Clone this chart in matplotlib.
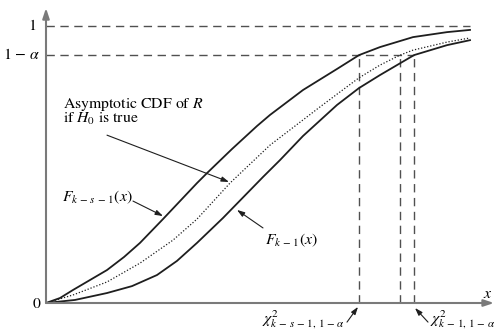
import matplotlib
matplotlib.use("Agg")
import matplotlib.pyplot as plt

plt.rcParams['font.family'] = ['STIXGeneral', 'DejaVu Serif']
plt.rcParams['mathtext.fontset'] = 'stix'

# ---- data (x in chart units, y = CDF value) ----
alpha = 0.103
upper_x = [0.0, 0.35, 0.675, 1.1, 1.525, 1.95, 2.35, 2.925, 3.775, 4.025, 4.65, 5.275,
           5.6, 6.425, 7.275, 7.825, 8.35, 9.175, 10.025, 10.6]
upper_y = [0.0, 0.018, 0.047, 0.083, 0.119, 0.166, 0.217, 0.303, 0.433, 0.469, 0.556, 0.639,
           0.679, 0.769, 0.845, 0.895, 0.924, 0.960, 0.978, 0.986]

mid_x = [0.0, 0.675, 1.525, 2.35, 3.175, 3.775, 4.6, 5.6, 6.425, 6.85, 7.35, 7.825,
         8.35, 8.85, 9.175, 10.025, 10.6]
mid_y = [0.0, 0.029, 0.076, 0.144, 0.227, 0.303, 0.433, 0.570, 0.661, 0.708, 0.762, 0.813,
         0.859, 0.895, 0.913, 0.942, 0.957]

low_x = [0.0, 0.725, 1.525, 2.15, 2.775, 3.275, 3.775, 4.425, 5.425, 5.85, 6.425, 7.275,
         7.825, 8.35, 9.2, 10.025, 10.6]
low_y = [0.0, 0.011, 0.036, 0.061, 0.101, 0.152, 0.217, 0.307, 0.455, 0.516, 0.603, 0.715,
         0.776, 0.823, 0.895, 0.931, 0.949]

crit_x = [7.825, 8.85, 9.2]   # chi^2_{k-s-1}, dotted crossing, chi^2_{k-1}
x_end_dash = 10.6
x_max = 11.2
y_max = 1.094

fig = plt.figure(figsize=(4.94, 3.33), dpi=100)
ax = fig.add_axes([46/494, 30/333, 448/494, 303/333])
ax.set_xlim(0, x_max)
ax.set_ylim(0, y_max)
ax.axis('off')

curve_col = '#1e1e1e'
dash_col = '#505050'
axis_col = '#7a7a7a'

# dashed reference lines
ax.plot([0, x_end_dash], [1, 1], color=dash_col, lw=1.0, ls=(0, (6, 4)))
ax.plot([0, crit_x[2]], [1 - alpha, 1 - alpha], color=dash_col, lw=1.0, ls=(0, (6, 4)))
for cx in crit_x:
    ax.plot([cx, cx], [0, 1 - alpha], color=dash_col, lw=1.0, ls=(0, (6, 4)))

# curves
ax.plot(upper_x, upper_y, color=curve_col, lw=1.3, solid_joinstyle='round')
ax.plot(low_x, low_y, color=curve_col, lw=1.3, solid_joinstyle='round')
ax.plot(mid_x, mid_y, color=curve_col, lw=0.9, ls=(0, (1, 1.5)))

# axes with arrows
ax.annotate('', xy=(11.2, 0), xytext=(0, 0), annotation_clip=False,
            arrowprops=dict(arrowstyle='-|>,head_length=0.6,head_width=0.2', color=axis_col, lw=1.5,
                            shrinkA=0, shrinkB=0))
ax.annotate('', xy=(0, (303-8)/277), xytext=(0, 0), annotation_clip=False,
            arrowprops=dict(arrowstyle='-|>,head_length=0.6,head_width=0.2', color=axis_col, lw=1.5,
                            shrinkA=0, shrinkB=0))

fs = 11.3
ax.text(-0.25, 1.0, '1', ha='right', va='center', fontsize=fs, clip_on=False)
ax.text(-0.15, 1 - alpha, r'1 $-$ $\alpha$', ha='right', va='center', fontsize=fs, clip_on=False)
ax.text(-0.15, -0.005, '0', ha='right', va='center', fontsize=fs, clip_on=False)
ax.text(11.05, 0.032, r'$x$', ha='center', va='center', fontsize=fs, clip_on=False)

ax.text(0.425, 0.718, r'Asymptotic CDF of $R$', ha='left', va='center', fontsize=fs)
ax.text(0.425, 0.664, r'if $H_0$ is true', ha='left', va='center', fontsize=fs)
ax.text(0.4, 0.383, r'$F_{k\,-\,s\,-\,1}(x)$', ha='left', va='center', fontsize=fs)
ax.text(5.475, 0.227, r'$F_{k\,-\,1}(x)$', ha='left', va='center', fontsize=fs)

ax.text(7.475, -0.061, r'$\chi^2_{k\,-\,s\,-\,1,\,1\,-\,\alpha}$', ha='right', va='center',
        fontsize=fs, clip_on=False)
ax.text(9.6, -0.061, r'$\chi^2_{k\,-\,1,\,1\,-\,\alpha}$', ha='left', va='center',
        fontsize=fs, clip_on=False)

arr = dict(arrowstyle='-|>,head_length=0.45,head_width=0.15', color=curve_col, lw=0.8,
           shrinkA=0, shrinkB=0)
ax.annotate('', xy=(4.575, 0.437), xytext=(1.525, 0.606), arrowprops=arr, annotation_clip=False)
ax.annotate('', xy=(2.925, 0.314), xytext=(2.175, 0.368), arrowprops=arr, annotation_clip=False)
ax.annotate('', xy=(4.775, 0.336), xytext=(5.425, 0.271), arrowprops=arr, annotation_clip=False)
ax.annotate('', xy=(7.8, -0.014), xytext=(7.525, -0.069), arrowprops=arr, annotation_clip=False)
ax.annotate('', xy=(9.225, -0.018), xytext=(9.55, -0.069), arrowprops=arr, annotation_clip=False)

fig.savefig('out.png', dpi=100)
